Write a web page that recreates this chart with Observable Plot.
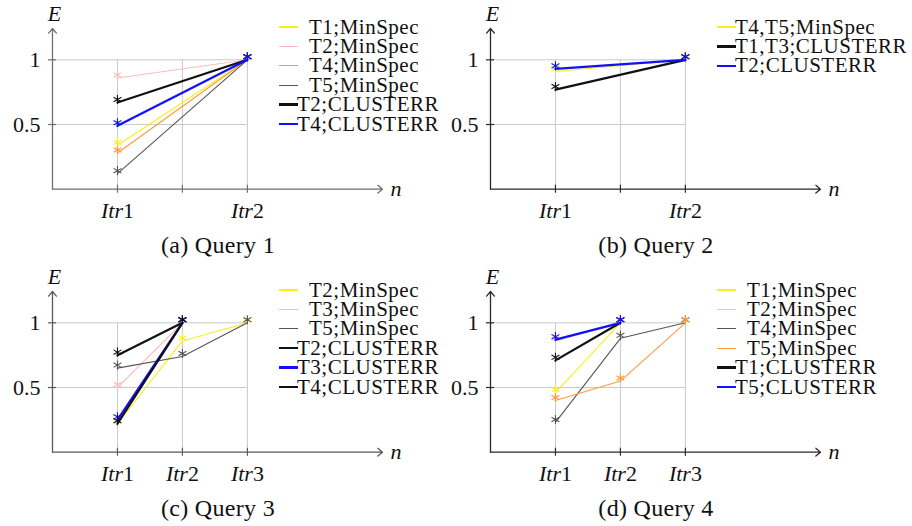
<!DOCTYPE html>
<html><head><meta charset="utf-8">
<script src="https://cdn.jsdelivr.net/npm/d3@7"></script>
<script src="https://cdn.jsdelivr.net/npm/@observablehq/plot@0.6"></script>
<style>
body{margin:0;background:#fff;font-family:"Liberation Serif","Times New Roman","DejaVu Serif",serif;}
#root{position:relative;width:912px;height:526px;overflow:hidden;}
.panel{position:absolute;width:456px;height:263px;}
.panel svg{position:absolute;left:0;top:0;overflow:visible;}
.leg{position:absolute;font-size:21px;letter-spacing:0.5px;color:#111;white-space:nowrap;line-height:17px;height:17px;}
.sw{position:absolute;width:19px;}
.cap{position:absolute;left:0;width:436px;text-align:center;font-size:24px;letter-spacing:0.3px;color:#111;line-height:24px;}
</style></head><body><div id="root"></div><script>
// ---- data ----
const xTicks = [1, 2, 3];
const yTicks = [0.5, 1];
const yTickLabels = ["0.5", "1"];

const q1TickLabels = ["Itr1", "", "Itr2"];
const q1X = [1, 3];
const q1Names = ["T1;MinSpec", "T2;MinSpec", "T4;MinSpec", "T5;MinSpec", "T2;CLUSTERR", "T4;CLUSTERR"];
const q1Values = [[0.34, 1], [0.86, 1], [0.28, 1], [0.12, 1], [0.67, 1], [0.49, 1]];

const q2TickLabels = ["Itr1", "", "Itr2"];
const q2X = [1, 3];
const q2Names = ["T4,T5;MinSpec", "T1,T3;CLUSTERR", "T2;CLUSTERR"];
const q2Values = [[0.91, 1], [0.77, 1], [0.93, 1]];

const q3TickLabels = ["Itr1", "Itr2", "Itr3"];
const q3X = [1, 2, 3];
const q3Names = ["T2;MinSpec", "T3;MinSpec", "T5;MinSpec", "T2;CLUSTERR", "T3;CLUSTERR", "T4;CLUSTERR"];
const q3Values = [[0.22, 0.86, 1], [0.50, 1], [0.65, 0.74, 1], [0.75, 1], [0.25, 1], [0.22, 1]];

const q4TickLabels = ["Itr1", "Itr2", "Itr3"];
const q4X = [1, 2, 3];
const q4Names = ["T1;MinSpec", "T2;MinSpec", "T4;MinSpec", "T5;MinSpec", "T1;CLUSTERR", "T5;CLUSTERR"];
const q4Values = [[0.46, 1], [0.86, 1], [0.23, 0.88, 1], [0.40, 0.55, 1], [0.71, 1], [0.87, 1]];

const captions = ["(a) Query 1", "(b) Query 2", "(c) Query 3", "(d) Query 4"];

// ---- styles ----
const FONT = '"Liberation Serif","Times New Roman","DejaVu Serif",serif';
const YEL = "#fbee1c", PNK = "#ffbcbc", ORG = "#ff9a3c", GRY = "#555555", BLK = "#111111", BLU = "#1010ff";
const q1Colors = [YEL, PNK, ORG, GRY, BLK, BLU];
const q2Colors = [YEL, BLK, BLU];
const q3Colors = [YEL, PNK, GRY, BLK, BLU, BLK];
const q4Colors = [YEL, PNK, GRY, ORG, BLK, BLU];
const thickOf = n => /CLUSTERR/.test(n);

const XMAX = 5.08, YMAX = 1.242;

function buildPanel(host, left, top, o) {
  const div = document.createElement("div");
  div.className = "panel";
  div.style.left = left + "px"; div.style.top = top + "px";
  host.appendChild(div);
  const ac = o.axisColor;
  const marks = [
    Plot.ruleX(xTicks, {x: d => d, y1: () => 0, y2: () => 1, stroke: "#c9c9c9", strokeWidth: 1}),
    Plot.ruleY(yTicks, {y: d => d, x1: () => 0, x2: () => 3, stroke: "#c9c9c9", strokeWidth: 1}),
    Plot.arrow([0], {x1: () => 0, y1: () => 0, x2: () => XMAX, y2: () => 0, stroke: ac, strokeWidth: 1.3, headLength: 7, headAngle: 80}),
    Plot.arrow([0], {x1: () => 0, y1: () => 0, x2: () => 0, y2: () => YMAX, stroke: ac, strokeWidth: 1.3, headLength: 7, headAngle: 80}),
    Plot.ruleX(xTicks, {x: d => d, y1: () => 0, y2: () => 0, insetTop: -4, insetBottom: -4, stroke: ac, strokeWidth: 1.2}),
    Plot.ruleY(yTicks, {y: d => d, x1: () => 0, x2: () => 0, insetLeft: -4, insetRight: -4, stroke: ac, strokeWidth: 1.2}),
    Plot.axisX(xTicks, {tickSize: 0, tickPadding: 13, tickFormat: (d) => o.tickLabels[xTicks.indexOf(d)], fontSize: 22, label: null, fill: "#111"}),
    Plot.axisY(yTicks, {tickSize: 0, tickPadding: 12, tickFormat: (d) => yTickLabels[yTicks.indexOf(d)], fontSize: 22, label: null, fill: "#111"}),
    Plot.text(["E"], {x: () => 0, y: () => YMAX, dx: 2, dy: -15, text: d => d, fontStyle: "italic", fontSize: 22, fill: "#111"}),
    Plot.text(["n"], {x: () => XMAX, y: () => 0, dx: 8, text: d => d, textAnchor: "start", fontStyle: "italic", fontSize: 22, fill: "#111"})
  ];
  o.names.forEach((name, i) => {
    const rows = o.values[i].map((v, j) => ({x: o.x[j], y: v}));
    marks.push(Plot.line(rows, {x: "x", y: "y", stroke: o.colors[i], strokeWidth: thickOf(name) ? 2.2 : 1.1}));
    marks.push(Plot.dot(rows, {x: "x", y: "y", symbol: "asterisk", r: 4.3, stroke: o.colors[i], strokeWidth: 1.1, dy: -3}));
  });
  const svg = Plot.plot({
    width: 456, height: 263,
    marginLeft: 52, marginRight: 74, marginTop: 28, marginBottom: 74.3,
    x: {domain: [0, XMAX]}, y: {domain: [0, YMAX]},
    style: {fontFamily: FONT, fontSize: "22px", background: "transparent", overflow: "visible"},
    marks
  });
  div.appendChild(svg);
  // italic "Itr" with upright index
  svg.querySelectorAll('g[aria-label="x-axis tick label"] text').forEach(t => {
    const s = t.textContent; const m = s.match(/^(\D*)(\d*)$/);
    if (!m) return;
    t.textContent = "";
    const a = document.createElementNS("http://www.w3.org/2000/svg", "tspan");
    a.setAttribute("font-style", "italic"); a.textContent = m[1];
    const b = document.createElementNS("http://www.w3.org/2000/svg", "tspan");
    b.textContent = m[2];
    t.appendChild(a); t.appendChild(b);
  });
  // legend
  o.names.forEach((name, i) => {
    const cy = 27 + i * 19.4;
    const sw = document.createElement("div");
    sw.className = "sw";
    const h = thickOf(name) ? 2.4 : 1.3;
    sw.style.left = "279px"; sw.style.top = (cy - h / 2) + "px"; sw.style.height = h + "px";
    sw.style.background = o.colors[i];
    div.appendChild(sw);
    const tx = document.createElement("div");
    tx.className = "leg";
    tx.textContent = name;
    tx.style.left = (o.indent[i] ? 309 : 297) + "px"; tx.style.top = (cy - 8.5) + "px";
    div.appendChild(tx);
  });
  const cap = document.createElement("div");
  cap.className = "cap"; cap.textContent = o.caption;
  cap.style.top = (245 - 12) + "px";
  div.appendChild(cap);
}

const root = document.getElementById("root");
buildPanel(root, 0, 0, {x: q1X, tickLabels: q1TickLabels, names: q1Names, values: q1Values, colors: q1Colors, indent: [1,1,1,1,0,0], caption: captions[0], axisColor: "#707070"});
buildPanel(root, 438, 0, {x: q2X, tickLabels: q2TickLabels, names: q2Names, values: q2Values, colors: q2Colors, indent: [0,0,0], caption: captions[1], axisColor: "#2a2a2a"});
buildPanel(root, 0, 263, {x: q3X, tickLabels: q3TickLabels, names: q3Names, values: q3Values, colors: q3Colors, indent: [1,1,1,0,0,0], caption: captions[2], axisColor: "#5a5a5a"});
buildPanel(root, 438, 263, {x: q4X, tickLabels: q4TickLabels, names: q4Names, values: q4Values, colors: q4Colors, indent: [1,1,1,1,0,0], caption: captions[3], axisColor: "#2a2a2a"});
</script></body></html>
